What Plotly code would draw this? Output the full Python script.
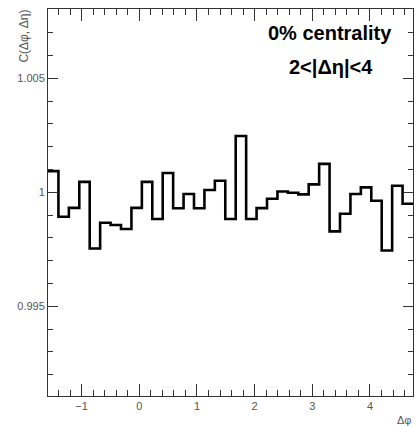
import numpy as np
import plotly.graph_objects as go

# Bin contents (35 bins)
x_low = -1.583
x_high = 4.746
values = [1.00093, 0.99893, 0.99932, 1.00046, 0.99754, 0.99867, 0.99857, 0.99839,
          0.99932, 1.00046, 0.99883, 1.00085, 0.99930, 0.99993, 0.99930, 1.00010,
          1.00051, 0.99883, 1.00247, 0.99883, 0.99931, 0.99972, 1.00004, 0.99998,
          0.99991, 1.00035, 1.00125, 0.99829, 0.99906, 0.99993, 1.00022, 0.99963,
          0.99745, 1.00029, 0.99950]
y_range = [0.99107, 1.00804]
x_ticks = [-1, 0, 1, 2, 3, 4]
y_ticks = [0.995, 1.0, 1.005]
y_tick_text = ["0.995", "1", "1.005"]

n = len(values)
edges = np.linspace(x_low, x_high, n + 1)
ys = values + [values[-1]]

fig = go.Figure()
fig.add_trace(go.Scatter(x=edges, y=ys, mode="lines", line_shape="hv",
                         line=dict(color="black", width=2.6), hoverinfo="skip",
                         showlegend=False))

font = "Liberation Sans, Arial, Helvetica, sans-serif"
axis_common = dict(showgrid=False, zeroline=False, showline=True, linecolor="#333",
                   linewidth=1, mirror="allticks", ticks="inside", tickcolor="#333",
                   tickfont=dict(family=font, size=11, color="#555"))

fig.update_xaxes(range=[x_low, x_high], tickvals=x_ticks, ticklen=12, tickwidth=1,
                 minor=dict(dtick=0.2, tick0=0, ticklen=6, ticks="inside", tickcolor="#333"),
                 **axis_common)
fig.update_yaxes(range=y_range, tickvals=y_ticks, ticktext=y_tick_text, ticklen=10,
                 tickwidth=1,
                 minor=dict(dtick=0.001, tick0=1.0, ticklen=5, ticks="inside", tickcolor="#333"),
                 **axis_common)

fig.add_annotation(text="<b>0% centrality</b>", xref="paper", yref="paper",
                   x=0.773, y=0.939, xanchor="center", yanchor="middle", showarrow=False,
                   font=dict(family=font, size=20, color="black"))
fig.add_annotation(text="<b>2<|Δη|<4</b>", xref="paper", yref="paper",
                   x=0.775, y=0.849, xanchor="center", yanchor="middle", showarrow=False,
                   font=dict(family=font, size=20, color="black"))
fig.add_annotation(text="C(Δφ, Δη)", xref="paper", yref="paper",
                   x=-0.065, y=1.003, xanchor="center", yanchor="top", textangle=-90,
                   showarrow=False, font=dict(family=font, size=12, color="#555"))
fig.add_annotation(text="Δφ", xref="paper", yref="paper",
                   x=1.0, y=-0.062, xanchor="right", yanchor="middle",
                   showarrow=False, font=dict(family=font, size=11, color="#555"))

fig.update_layout(width=416, height=426, margin=dict(l=48, r=3, t=9, b=30),
                  plot_bgcolor="white", paper_bgcolor="white")

fig.write_html("out.html")
